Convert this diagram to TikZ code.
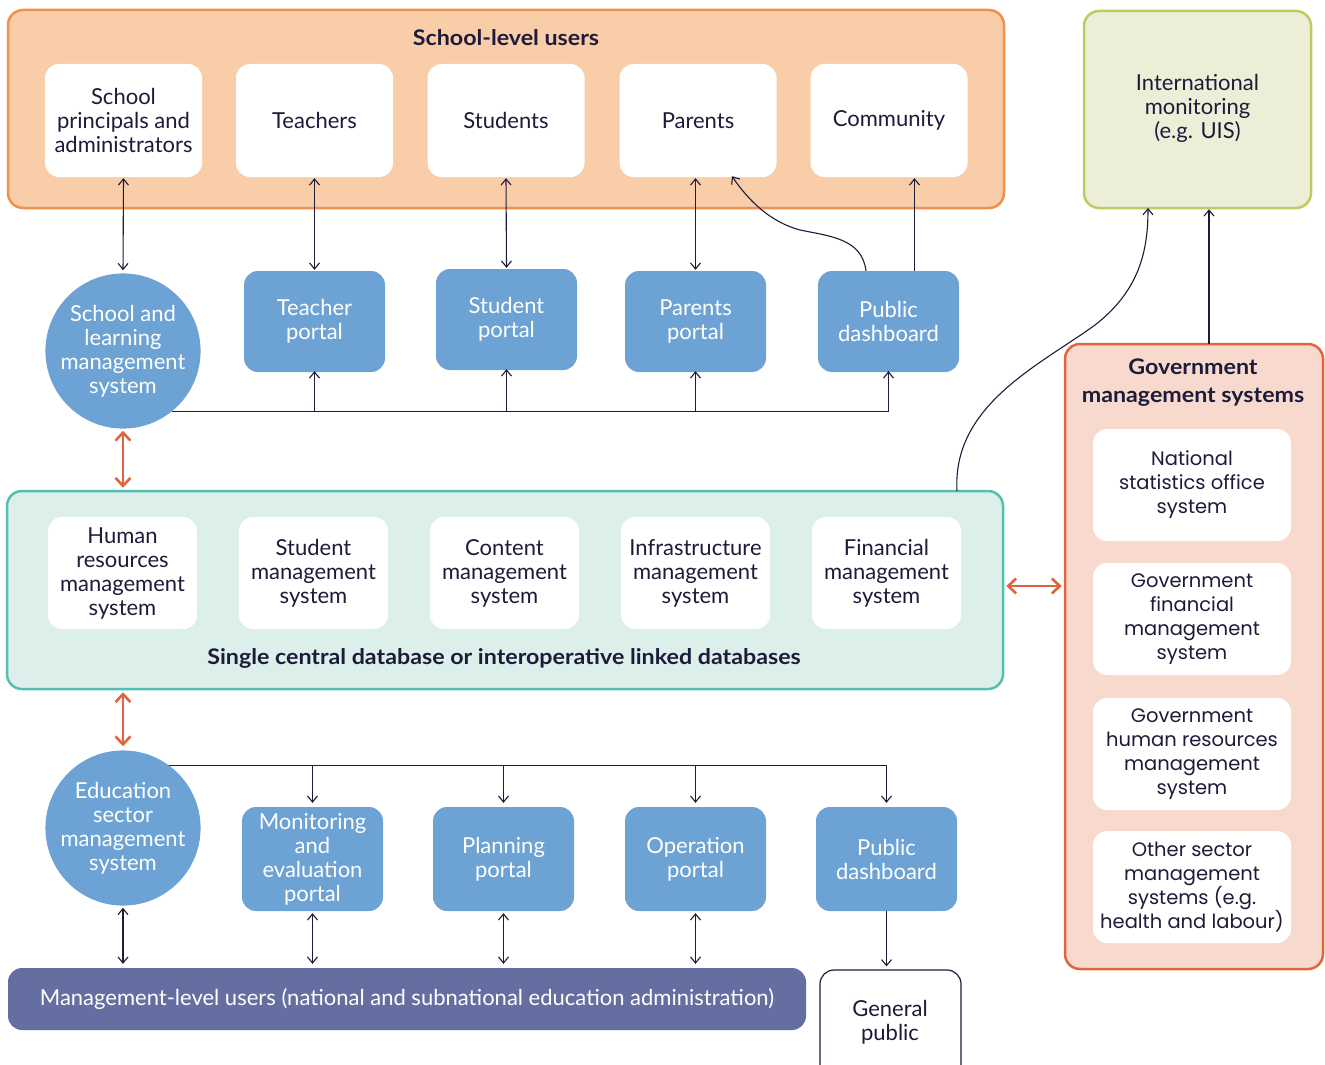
\documentclass[tikz,border=0pt]{standalone}
\usepackage{fontspec}
\setmainfont{Lato}
\newfontfamily\titlefont{Lato}[FakeStretch=1.08]
\newfontfamily\govfont{Poppins}
\usetikzlibrary{arrows.meta}
\definecolor{navy}{HTML}{1C1C3A}
\definecolor{peachfill}{HTML}{F9CDA8}
\definecolor{peachline}{HTML}{F0904A}
\definecolor{portalblue}{HTML}{6CA2D4}
\definecolor{tealfill}{HTML}{DCEFEB}
\definecolor{tealline}{HTML}{52C0B1}
\definecolor{olivefill}{HTML}{ECEED8}
\definecolor{oliveline}{HTML}{C0CB5E}
\definecolor{govfill}{HTML}{F7DACD}
\definecolor{govline}{HTML}{E0653F}
\definecolor{mgmtfill}{HTML}{646EA0}
\definecolor{orangearrow}{HTML}{E0643F}
\tikzset{
  base/.style={font=\fontsize{22}{24}\selectfont, align=center, text=navy, inner sep=0pt},
  container/.style={base, rounded corners=15pt, line width=2.5pt},
  wbox/.style={base, fill=white, rounded corners=14pt, minimum width=157pt, minimum height=113pt},
  dbbox/.style={base, fill=white, rounded corners=14pt, minimum width=149pt, minimum height=112pt},
  govbox/.style={base, fill=white, rounded corners=14pt, minimum width=198pt, minimum height=112pt,
     font=\govfont\fontsize{19.5}{24}\selectfont},
  portal/.style={base, fill=portalblue, text=white, rounded corners=14pt, minimum width=141pt, minimum height=101pt},
  circ/.style={base, circle, fill=portalblue, text=white, minimum size=154pt},
  ttl/.style={base, font=\titlefont\bfseries\fontsize{21.5}{28}\selectfont},
  conn/.style={draw=navy, line width=1.1pt},
  tipone/.style={-{Straight Barb[length=6pt,width=10pt]}},
  tipboth/.style={{Straight Barb[length=6pt,width=10pt]}-{Straight Barb[length=6pt,width=10pt]}},
  orange/.style={draw=orangearrow, line width=2.6pt,
     {Straight Barb[length=8pt,width=15pt]}-{Straight Barb[length=8pt,width=15pt]}}
}
\begin{document}
\begin{tikzpicture}[x=1pt,y=-1pt]
\useasboundingbox (0,0) rectangle (1325,1065);
\clip (0,0) rectangle (1325,1065);
\fill[white] (0,0) rectangle (1325,1065);

% containers
\node[container, fill=peachfill, draw=peachline, minimum width=996pt, minimum height=198pt] (school) at (506,109) {};
\node[ttl] (schooltitle) at (506,38) {School-level users};
\node[container, fill=olivefill, draw=oliveline, minimum width=227pt, minimum height=197pt] (intl) at (1197.5,109.5) {};
\node[base] (intltext) at (1197.5,108.5) {International\\monitoring\\(e.g. UIS)};
\node[container, fill=tealfill, draw=tealline, minimum width=996pt, minimum height=198pt] (db) at (505,590) {};
\node[ttl] (dbtitle) at (504,658) {Single central database or interoperative linked databases};
\node[container, fill=govfill, draw=govline, minimum width=258pt, minimum height=625pt] (gov) at (1194,656.5) {};
\node[ttl] (govtitle) at (1193,383) {Government\\management systems};

% school-level users
\node[wbox] (prin) at (123.5,120.5) {School\\principals and\\administrators};
\node[wbox] (teach) at (314.5,120.5) {Teachers};
\node[wbox] (stud) at (506,120.5) {Students};
\node[wbox] (par) at (698,120.5) {Parents};
\node[wbox] (comm) at (889,120.5) {Community};

% school-level systems
\node[circ] (slms) at (123,351) {School and\\learning\\management\\system};
\node[portal] (tport) at (314.5,321.5) {Teacher\\portal};
\node[portal] (sport) at (506.5,319.5) {Student\\portal};
\node[portal] (pport) at (695.5,321.5) {Parents\\portal};
\node[portal] (pdash) at (888.5,321.5) {Public\\dashboard};

% database systems
\node[dbbox] (hrms) at (122.5,573) {Human\\resources\\management\\system};
\node[dbbox] (sms) at (313.5,573) {Student\\management\\system};
\node[dbbox] (cms) at (504.5,573) {Content\\management\\system};
\node[dbbox] (ims) at (695.5,573) {Infrastructure\\management\\system};
\node[dbbox] (fms) at (886.5,573) {Financial\\management\\system};

% government systems
\node[govbox] (nso) at (1192,485) {National\\statistics office\\system};
\node[govbox] (gfms) at (1192,619) {Government\\financial\\management\\system};
\node[govbox] (ghrms) at (1192,754) {Government\\human resources\\management\\system};
\node[govbox] (osms) at (1192,887) {Other sector\\management\\systems (e.g.\\health and labour)};

% management-level systems
\node[circ] (esms) at (123,828) {Education\\sector\\management\\system};
\node[portal, minimum height=104pt] (meport) at (312.5,859) {Monitoring\\and\\evaluation\\portal};
\node[portal, minimum height=104pt] (plport) at (503.5,859) {Planning\\portal};
\node[portal, minimum height=104pt] (opport) at (695.5,859) {Operation\\portal};
\node[portal, minimum height=104pt] (pdash2) at (886.5,859) {Public\\dashboard};

% bottom users
\node[base, fill=mgmtfill, text=white, rounded corners=14pt, minimum width=798pt, minimum height=62pt] (mgmt) at (407,999) {Management-level users (national and subnational education administration)};
\node[base, draw=navy, line width=1.2pt, fill=white, rounded corners=14pt, minimum width=141pt, minimum height=120pt] (gp) at (890.5,1030) {};
\node[base] (gptext) at (890,1022) {General\\public};

% school users <-> systems
\draw[conn, tipboth, shorten <=1pt, shorten >=3pt] (prin.south) -- (slms.north);
\draw[conn, tipboth, shorten <=1pt, shorten >=1pt] (prin.south -| tport.north) -- (tport.north);
\draw[conn, tipboth, shorten <=1pt, shorten >=1pt] (stud.south) -- (sport.north);
\draw[conn, tipboth, shorten <=1pt, shorten >=1pt] (par.south -| pport.north) -- (pport.north);
\coordinate (pdtop) at ([xshift=26pt]pdash.north);
\draw[conn, tipone, shorten >=1pt] (pdtop) -- (pdtop |- comm.south);
\coordinate (pdtop2) at ([xshift=-22.5pt]pdash.north);
\coordinate (parend) at ([xshift=34pt,yshift=1pt]par.south);
\draw[conn, tipone] (pdtop2) .. controls (862,238) and (828,236) .. (800,230) .. controls (770,222) and (748,200) .. (parend);

% school bus
\coordinate (busy) at (0,411);
\draw[conn] (slms.-51.2) -- (slms.-51.2 -| pdash.south) -- ([yshift=1pt]pdash.south);
\draw[conn, tipone] (busy -| pdash.south) -- ([yshift=1pt]pdash.south);
\draw[conn, tipone] (busy -| tport.south) -- ([yshift=1pt]tport.south);
\draw[conn, tipone] (busy -| sport.south) -- ([yshift=1pt]sport.south);
\draw[conn, tipone] (busy -| pport.south) -- ([yshift=1pt]pport.south);

% orange connections
\draw[orange, shorten <=2pt, shorten >=2pt] (slms.south) -- (slms.south |- db.north);
\draw[orange, shorten <=2pt, shorten >=4pt] (db.south -| esms.north) -- (esms.north);
\coordinate (orow) at (0,586);
\draw[orange, shorten <=2pt, shorten >=2pt] (db.east |- orow) -- (gov.west |- orow);

% international
\coordinate (dbcurve) at (957,491);
\draw[conn, tipone] (dbcurve) .. controls (952,405) and (1040,365) .. (1095,325) .. controls (1140,290) and (1148,250) .. (1148,208);
\coordinate (govtop) at (1209,344);
\draw[conn, tipone] (govtop) -- (govtop |- intl.south);

% management bus
\coordinate (busb) at (0,765);
\draw[conn] (esms.54.9) -- (esms.54.9 -| pdash2.north);
\draw[conn, tipone, shorten >=4pt] (busb -| pdash2.north) -- (pdash2.north);
\draw[conn, tipone, shorten >=4pt] (busb -| meport.north) -- (meport.north);
\draw[conn, tipone, shorten >=4pt] (busb -| plport.north) -- (plport.north);
\draw[conn, tipone, shorten >=4pt] (busb -| opport.north) -- (opport.north);

% bottom arrows
\draw[conn, tipboth, shorten <=2pt, shorten >=4pt] (esms.south) -- (esms.south |- mgmt.north);
\draw[conn, tipboth, shorten <=2pt, shorten >=4pt] (meport.south) -- (meport.south |- mgmt.north);
\draw[conn, tipboth, shorten <=2pt, shorten >=4pt] (plport.south) -- (plport.south |- mgmt.north);
\draw[conn, tipboth, shorten <=2pt, shorten >=4pt] (opport.south) -- (opport.south |- mgmt.north);
\draw[conn, tipone, shorten >=3pt] (pdash2.south) -- (pdash2.south |- gp.north);
\end{tikzpicture}
\end{document}
